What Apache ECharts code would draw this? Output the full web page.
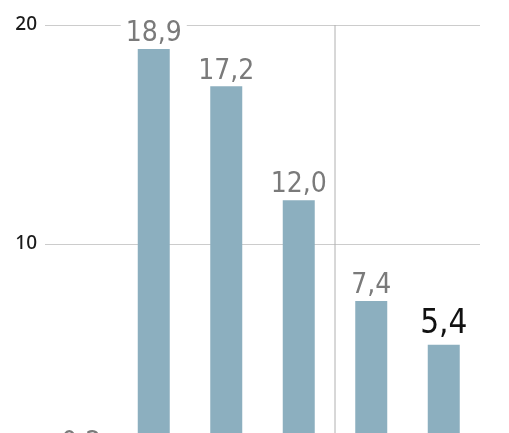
<!DOCTYPE html>
<html>
<head>
<meta charset="utf-8">
<script src="https://cdn.jsdelivr.net/npm/echarts@6/dist/echarts.min.js"></script>
<style>
    html, body { margin: 0; padding: 0; background: #fff; overflow: hidden; }
    #chart { width: 509px; height: 480px; }
</style>
</head>
<body>
<div id="chart"></div>
<script>
// categories (their names sit below the visible crop)
let categories = ["c1", "c2", "c3", "c4", "c5", "c6"];
let values = [0.2, 18.9, 17.2, 12.0, 7.4, 5.4];
let yTicks = [0, 10, 20];
let highlightIndex = 5;
// divider sits on the boundary before the 5th category
let dividerAt = 4;

function formatComma(v) {
    return v.toFixed(1).replace(".", ",");
}

let chart = echarts.init(document.getElementById("chart"));
let option = {
    animation: false,
    grid: {
        left: 45,
        right: 29,
        top: 25,
        bottom: 17
    },
    xAxis: [
        {
            type: "category",
            data: categories,
            axisLine: { show: false },
            axisTick: { show: false },
            axisLabel: { show: false },
            splitLine: { show: false }
        },
        {
            // hidden helper axis in category-boundary units
            type: "value",
            min: 0,
            max: categories.length,
            show: false
        }
    ],
    yAxis: {
        type: "value",
        min: yTicks[0],
        max: yTicks[yTicks.length - 1],
        interval: 10,
        axisLine: { show: false },
        axisTick: { show: false },
        axisLabel: {
            margin: 8,
            color: "#1a1a1a",
            fontSize: 19,
            fontWeight: 500,
            fontFamily: "Noto Sans"
        },
        splitLine: {
            lineStyle: { color: "#cccccc", width: 1 }
        }
    },
    series: [
        {
            type: "line",
            xAxisIndex: 1,
            silent: true,
            symbol: "none",
            lineStyle: { color: "#b0b0b0", width: 1 },
            data: [[dividerAt, yTicks[0]], [dividerAt, yTicks[yTicks.length - 1]]],
            z: 1
        },
        {
            type: "bar",
            barWidth: 32,
            itemStyle: { color: "#8cafbf" },
            label: {
                show: true,
                position: "top",
                distance: 1,
                formatter: function (p) {
                    return formatComma(p.value);
                },
                color: "#7a7a7a",
                fontSize: 28,
                fontFamily: "Liberation Sans Narrow, DejaVu Sans Condensed, sans-serif",
                backgroundColor: "#fff",
                padding: [0, 5]
            },
            data: values.map(function (v, i) {
                if (i !== highlightIndex) return v;
                return {
                    value: v,
                    label: { color: "#111", fontSize: 33, distance: 4 }
                };
            }),
            z: 3
        }
    ]
};
chart.setOption(option);
</script>
</body>
</html>
